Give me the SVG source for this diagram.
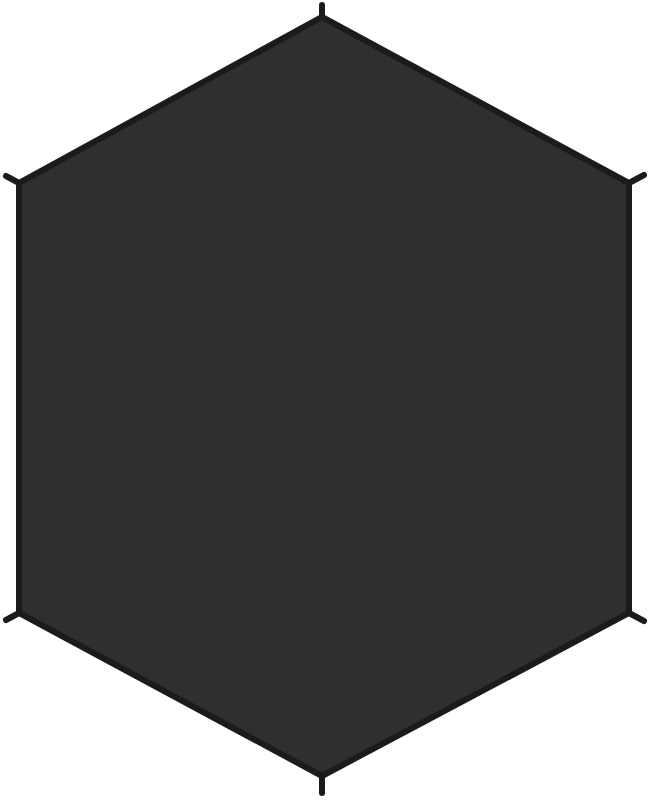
<svg xmlns="http://www.w3.org/2000/svg" width="648" height="800" viewBox="0 0 648 800">
<style>
.hex{fill:#2f2f2f;stroke:#1c1a1b;stroke-width:6;stroke-linejoin:miter}
.tab{stroke:#1c1a1b;stroke-width:6;stroke-linecap:round;fill:none}
</style>
<rect width="648" height="800" fill="#ffffff"/>
<g id="hexagon">
<g id="tabs">
<line class="tab" x1="322" y1="17" x2="322" y2="5"/>
<line class="tab" x1="629" y1="183" x2="644" y2="175"/>
<line class="tab" x1="629" y1="613" x2="644" y2="621"/>
<line class="tab" x1="322" y1="776" x2="322" y2="793"/>
<line class="tab" x1="19" y1="613" x2="6" y2="620"/>
<line class="tab" x1="19" y1="183" x2="6" y2="176"/>
</g>
<polygon class="hex" points="322,17 629,183 629,613 322,776 19,613 19,183"/>
</g>
</svg>
